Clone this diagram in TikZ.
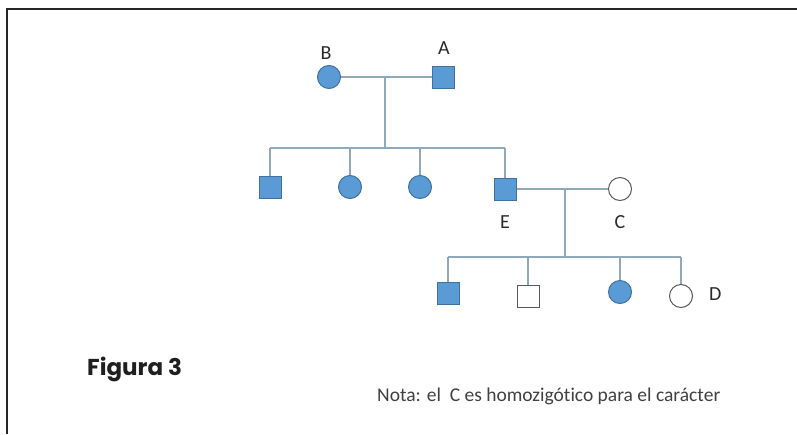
\documentclass[tikz,border=0pt]{standalone}
\usepackage{fontspec}
\setmainfont{Carlito}[Ligatures=NoCommon]
\newfontfamily\headfont{Poppins}[UprightFont=* Bold]
\definecolor{affblue}{HTML}{5B9BD5}
\definecolor{affedge}{HTML}{41719C}
\definecolor{pedline}{HTML}{8FA8BA}
\definecolor{labtext}{HTML}{2A2A2A}
\tikzset{
  male/.style={rectangle, minimum size=22pt, inner sep=0pt, draw=affedge, line width=1pt, fill=affblue},
  female/.style={circle, minimum size=23pt, inner sep=0pt, draw=affedge, line width=1pt, fill=affblue},
  healthy/.style={fill=white, draw=black!65},
  link/.style={draw=pedline, line width=1.4pt},
  tag/.style={text=labtext, font=\fontsize{20}{20}\selectfont, inner sep=0pt}
}
\begin{document}
\begin{tikzpicture}[x=1pt, y=-1pt]
\useasboundingbox (0,0) rectangle (797,434);
% frame edges
\draw[line width=2.5pt, black!85] (7,434) -- (7,9) -- (797,9);

% generation I
\node[female] (B) at (329,77) {};
\node[male] (A) at (443,77) {};
\node[tag] at (326,53) {B};
\node[tag] at (444,48) {A};
\coordinate (m1) at (385,77);
\coordinate (s1) at (385,148);
\draw[link] (B) -- (A);
\draw[link] (m1) -- (s1);

% generation II
\node[male] (c1) at (270,187) {};
\node[female] (c2) at (350,187) {};
\node[female] (c3) at (420,187) {};
\node[male] (E) at (505,189) {};
\node[female, healthy] (C) at (620,189) {};
\node[tag] at (505,222) {E};
\node[tag] at (620,222) {C};
\coordinate (b1) at (270,148);
\coordinate (b4) at (505,148);
\draw[link] (b1) -- (b4);
\draw[link] (b1) -- (c1.north);
\draw[link] (c2.north |- b1) -- (c2.north);
\draw[link] (c3.north |- b1) -- (c3.north);
\draw[link] (b4) -- (E.north);
\draw[link] (E) -- (C);
\coordinate (m2) at (565,189);
\coordinate (s2) at (565,257);
\draw[link] (m2) -- (s2);

% generation III
\node[male] (d1) at (448,293) {};
\node[male, healthy] (d2) at (528,296) {};
\node[female] (d3) at (620,292) {};
\node[female, healthy] (D) at (681,296) {};
\node[tag, anchor=west] at (709,294) {D};
\coordinate (g1) at (448,257);
\coordinate (g4) at (681,257);
\draw[link] (g1) -- (g4);
\draw[link] (g1) -- (d1.north);
\draw[link] (d2.north |- g1) -- (d2.north);
\draw[link] (d3.north |- g1) -- (d3.north);
\draw[link] (g4) -- (D.north);

% captions
\node[anchor=base west, inner sep=0pt, text=black!88, font=\headfont\fontsize{23}{23}\selectfont] (fig) at (87,375) {Figura 3};
\node[anchor=base west, inner sep=0pt, text=black!75, font=\fontsize{19.5}{19.5}\selectfont] (nota) at (377,401) {Nota: el\ \ C es homozigótico para el carácter};
\end{tikzpicture}
\end{document}
